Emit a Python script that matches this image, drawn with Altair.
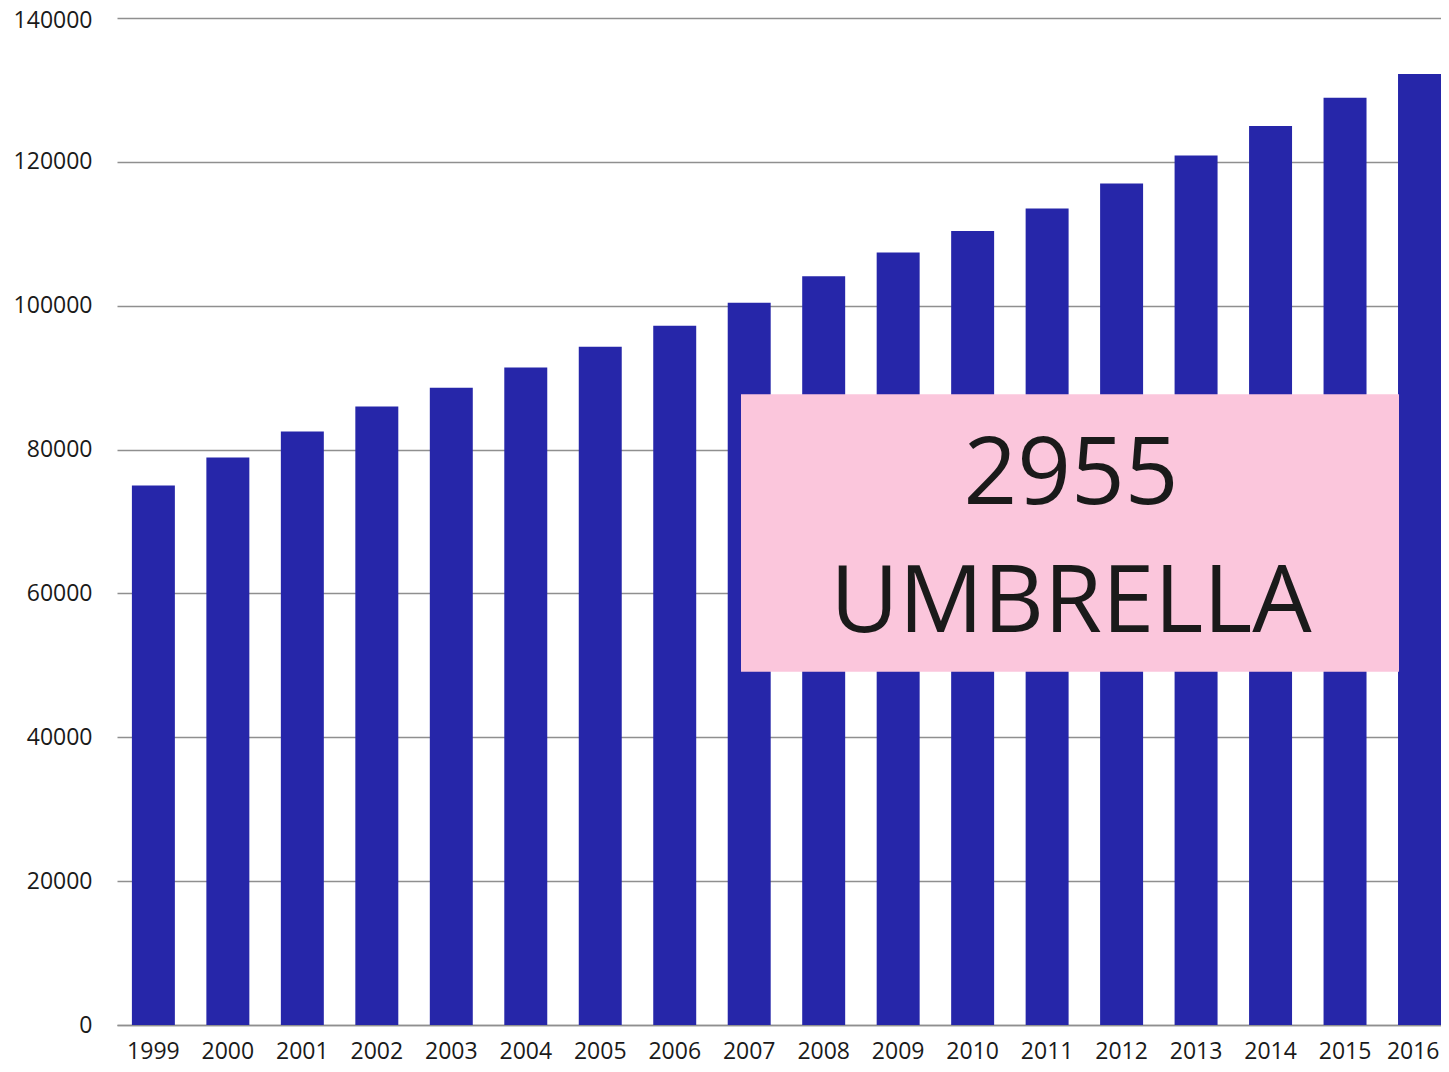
import altair as alt
import pandas as pd

years = ["1999", "2000", "2001", "2002", "2003", "2004", "2005", "2006", "2007",
         "2008", "2009", "2010", "2011", "2012", "2013", "2014", "2015", "2016"]
values = [75000, 78900, 82500, 86000, 88600, 91400, 94300, 97200, 100400,
          104100, 107400, 110400, 113500, 117000, 120900, 125000, 128900, 132200]
y_ticks = [0, 20000, 40000, 60000, 80000, 100000, 120000, 140000]

box_lines = ["2955", "UMBRELLA"]
box_line_baselines = [72400, 54600]
box_y_range = [49100, 87700]

FONT = "Open Sans"
GRID = "#8f8f8f"
LAST = years[-1]
TOP = y_ticks[-1]

df = pd.DataFrame({"year": years, "value": values})
box_df = pd.DataFrame({"y": [box_y_range[0]], "y2": [box_y_range[1]]})
text_df = pd.DataFrame({"label": box_lines, "y": box_line_baselines})

y_scale = alt.Scale(domain=[0, 140000], nice=False)

bars = alt.Chart(df).mark_bar(color="#2626A9").encode(
    x=alt.X("year:N", sort=years, title=None,
            scale=alt.Scale(paddingInner=0.423, paddingOuter=0.1, align=1),
            axis=alt.Axis(labelAngle=0, ticks=False, domain=True, domainColor=GRID,
                          domainWidth=1.5, labelFont=FONT, labelFontSize=23,
                          labelColor="#1a1a1a", labelPadding=15,
                          labelAlign=alt.ExprRef(f"datum.label == '{LAST}' ? 'right' : 'center'"),
                          labelOffset=alt.ExprRef(f"datum.label == '{LAST}' ? 20 : 0"))),
    y=alt.Y("value:Q", scale=y_scale, title=None,
            axis=alt.Axis(values=y_ticks, format="d", ticks=False, domain=False,
                          grid=True, gridColor=GRID, gridWidth=1.5,
                          labelFont=FONT, labelFontSize=23, labelColor="#1a1a1a",
                          labelPadding=25,
                          labelOffset=alt.ExprRef(f"datum.value == {TOP} ? 2 : 0"))),
)

box = alt.Chart(box_df).mark_rect(color="#FBC6DC").encode(
    x=alt.value(624), x2=alt.value(1282),
    y=alt.Y("y:Q", scale=y_scale), y2="y2:Q",
)

texts = alt.Chart(text_df).mark_text(
    font=FONT, fontSize=94, color="#1a1a1a", align="center", baseline="alphabetic"
).encode(
    x=alt.value(954),
    y=alt.Y("y:Q", scale=y_scale),
    text="label:N",
)

chart = alt.layer(bars, box, texts).properties(
    width=1324, height=1007,
    autosize=alt.AutoSizeParams(type="none"),
    padding={"left": 109, "top": 10, "right": 0, "bottom": 39},
).configure_view(stroke=None)

chart.save("out.html", embed_options={"renderer": "svg", "actions": False})
